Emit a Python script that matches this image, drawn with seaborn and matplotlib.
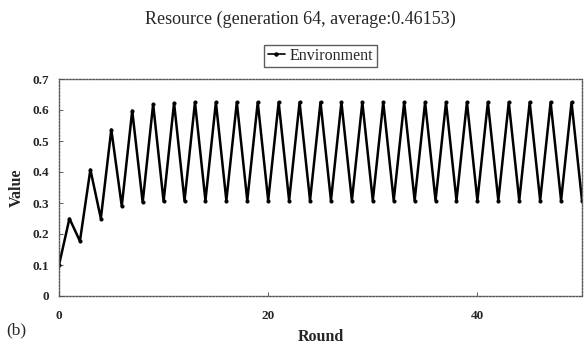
import matplotlib
matplotlib.use("Agg")
import matplotlib.pyplot as plt
from matplotlib.lines import Line2D
import seaborn as sns
import pandas as pd

# Resource level of the environment per round
rounds = list(range(51))
values = [
    0.100, 0.250, 0.177, 0.408, 0.250, 0.537, 0.290, 0.598, 0.302, 0.619,
    0.305, 0.623, 0.307, 0.625, 0.308, 0.625, 0.308, 0.625, 0.308, 0.625,
    0.308, 0.625, 0.308, 0.625, 0.308, 0.625, 0.308, 0.625, 0.308, 0.625,
    0.308, 0.625, 0.308, 0.625, 0.308, 0.625, 0.308, 0.625, 0.308, 0.625,
    0.308, 0.625, 0.308, 0.625, 0.308, 0.625, 0.308, 0.625, 0.308, 0.625,
    0.308,
]
series_name = "Environment"
title_text = "Resource (generation 64, average:0.46153)"
x_ticks = [0, 20, 40]
y_ticks = [0, 0.1, 0.2, 0.3, 0.4, 0.5, 0.6, 0.7]
y_tick_labels = ["0", "0.1", "0.2", "0.3", "0.4", "0.5", "0.6", "0.7"]

df = pd.DataFrame({"Round": rounds, "Value": values})

sns.set_theme(style="white")
plt.rcParams["font.family"] = ["Liberation Serif", "DejaVu Serif"]

fig = plt.figure(figsize=(5.84, 3.49), dpi=100)
ax = fig.add_axes([59 / 584, 1 - 296 / 349, 523 / 584, 217 / 349])

sns.lineplot(data=df, x="Round", y="Value", color="black",
             marker="o", markersize=2.2, markeredgecolor="black",
             markerfacecolor="black", linewidth=1.8, ax=ax, legend=False)

ax.set_xlim(0, 50)
ax.set_ylim(0, 0.7)
ax.set_xticks(x_ticks)
ax.set_xticklabels([str(t) for t in x_ticks], fontweight="bold", fontsize=9.5)
ax.set_yticks(y_ticks)
ax.set_yticklabels(y_tick_labels, fontweight="bold", fontsize=9.5)
ax.tick_params(axis="y", left=True, direction="in", length=3, width=0.6,
               color="#444444", pad=7)
ax.tick_params(axis="x", bottom=True, direction="in", length=3, width=0.6,
               color="#444444", pad=10)

# dotted grey frame around the plotting area
for side in ["top", "right", "bottom", "left"]:
    ax.spines[side].set_linestyle((0, (1.2, 1.2)))
    ax.spines[side].set_color("#555555")
    ax.spines[side].set_linewidth(1.0)

ax.set_xlabel("Round", fontweight="bold", fontsize=11.5, labelpad=5)
ax.set_ylabel("Value", fontweight="bold", fontsize=11.5, labelpad=6)

fig.text(0.515, 1 - 19 / 349, title_text, ha="center", va="center", fontsize=13)
fig.text(6 / 584, 1 - 330 / 349, "(b)", ha="left", va="center", fontsize=12.5)

legend_handle = Line2D([0, 1, 2], [0, 0, 0], color="black", linewidth=1.2,
                       marker="o", markersize=2.2, markevery=[1])
leg = ax.legend([legend_handle], [series_name], loc="center",
                bbox_to_anchor=(0.5, 1 + 23 / 217),
                frameon=True, fancybox=False, fontsize=11.5, handlelength=1.1,
                handletextpad=0.3, borderpad=0.2, borderaxespad=0)
leg.get_frame().set_edgecolor("#333333")
leg.get_frame().set_linewidth(1.0)

fig.savefig("out.png", dpi=100)
